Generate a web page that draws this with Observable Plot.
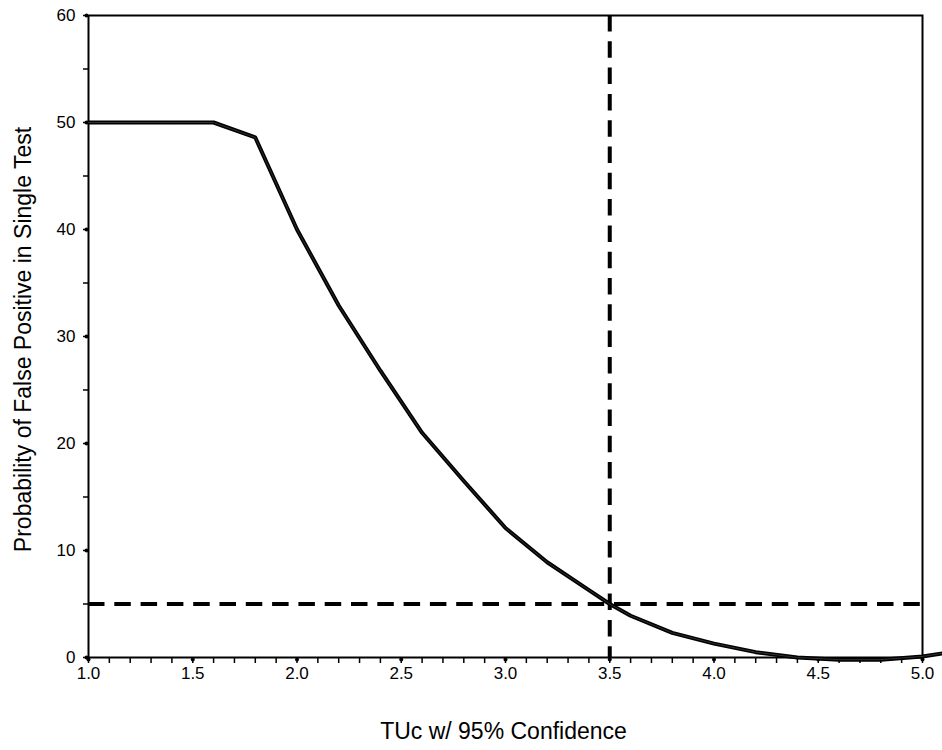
<!DOCTYPE html>
<html><head>
<meta charset="utf-8">
<script src="https://cdn.jsdelivr.net/npm/d3@7"></script>
<script src="https://cdn.jsdelivr.net/npm/@observablehq/plot@0.6"></script>
<style>body{margin:0;background:#fff;font-family:"Liberation Sans",Arial,sans-serif}</style>
</head><body><div id="chart"></div>
<script>
const tuc = [1.0, 1.2, 1.4, 1.6, 1.8, 2.0, 2.2, 2.4, 2.6, 2.8, 3.0, 3.2, 3.4, 3.5, 3.6, 3.8, 4.0, 4.2, 4.4, 4.6, 4.8, 5.0, 5.1];
const probability = [50, 50, 50, 50, 48.6, 40, 32.9, 26.8, 21, 16.5, 12.1, 8.9, 6.3, 5.0, 3.9, 2.3, 1.3, 0.5, 0.0, -0.2, -0.2, 0.1, 0.4];
const xTicks = [1.0, 1.5, 2.0, 2.5, 3.0, 3.5, 4.0, 4.5, 5.0];
const xMinor = [1.0,1.1,1.2,1.3,1.4,1.5,1.6,1.7,1.8,1.9,2.0,2.1,2.2,2.3,2.4,2.5,2.6,2.7,2.8,2.9,3.0,3.1,3.2,3.3,3.4,3.5,3.6,3.7,3.8,3.9,4.0,4.1,4.2,4.3,4.4,4.5,4.6,4.7,4.8,4.9,5.0];
const yTicks = [0, 10, 20, 30, 40, 50, 60];
const yMinor = [0, 5, 10, 15, 20, 25, 30, 35, 40, 45, 50, 55, 60];
const thresholdX = [3.5];
const thresholdY = [5];
const xLabel = "TUc w/ 95% Confidence";
const yLabel = "Probability of False Positive in Single Test";

const data = tuc.map((x, i) => ({x, y: probability[i]}));
const blank = () => "";

const chart = Plot.plot({
  width: 942,
  height: 750,
  marginLeft: 88,
  marginRight: 20,
  marginTop: 15,
  marginBottom: 93,
  style: {fontFamily: "Liberation Sans, Arial, sans-serif", fontSize: "17px", color: "black", background: "white"},
  x: {domain: [1, 5]},
  y: {domain: [0, 60]},
  marks: [
    Plot.axisX({ticks: xMinor, tickSize: 6, tickFormat: blank, strokeWidth: 1.5, label: null}),
    Plot.axisX({ticks: xTicks, tickSize: 0, tickPadding: 9, tickFormat: d3.format(".1f"), fontSize: 17, label: null}),
    Plot.axisY({ticks: yMinor, tickSize: 5, tickFormat: blank, strokeWidth: 1.5, label: null}),
    Plot.axisY({ticks: yTicks, tickSize: 0, tickPadding: 13, tickFormat: d3.format("d"), fontSize: 17, label: null}),
    Plot.dot(xTicks, {x: d => d, y: 0, r: 2, fill: "black", dy: 2}),
    Plot.dot(yTicks, {x: 1, y: d => d, r: 2, fill: "black", dx: -2}),
    Plot.frame({stroke: "black", strokeWidth: 2}),
    Plot.ruleX(thresholdX, {stroke: "black", strokeWidth: 4, strokeDasharray: "16.5,9.8"}),
    Plot.ruleY(thresholdY, {stroke: "black", strokeWidth: 4, strokeDasharray: "16.5,9.8"}),
    Plot.line(data, {x: "x", y: "y", stroke: "black", strokeWidth: 4, strokeLinejoin: "round"}),
    Plot.line(data, {x: "x", y: "y", stroke: "#666", strokeWidth: 0.6, strokeOpacity: 0.8}),
    Plot.text([xLabel], {frameAnchor: "bottom", dy: 81, dx: -2, fontSize: 23, fill: "black"}),
    Plot.text([yLabel], {frameAnchor: "left", textAnchor: "middle", dx: -65, dy: 3, rotate: -90, fontSize: 23, fill: "black"})
  ]
});
document.getElementById("chart").appendChild(chart);
</script>
</body></html>
